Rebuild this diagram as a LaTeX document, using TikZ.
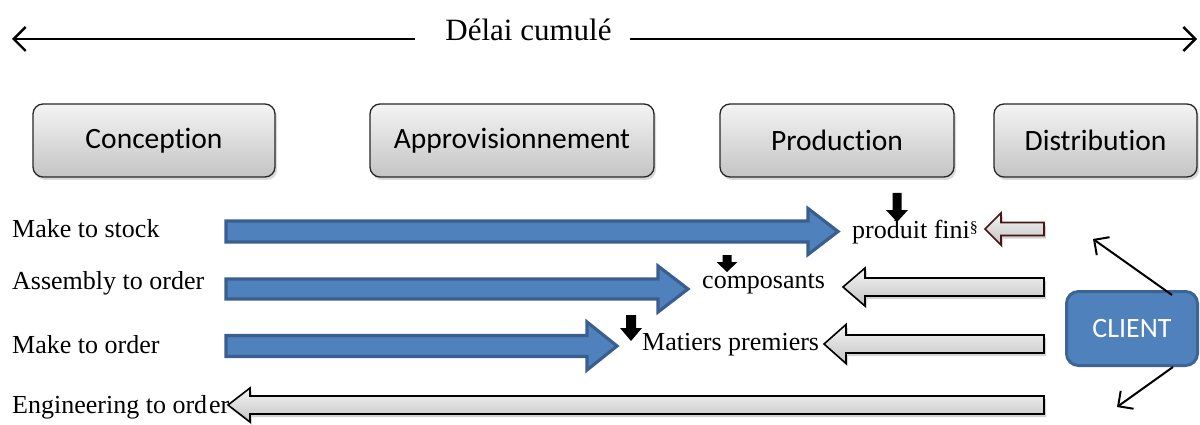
\documentclass[tikz,border=0pt]{standalone}
\usepackage{fontspec}
\setmainfont{Liberation Serif}
\newfontfamily\calibfont[Ligatures=NoCommon]{Carlito}
\usetikzlibrary{shadows,calc,arrows.meta}

\definecolor{phasetop}{HTML}{F4F4F4}
\definecolor{phasebot}{HTML}{C4C4C4}
\definecolor{flowblue}{HTML}{4F81BD}
\definecolor{flowedge}{HTML}{3A5F8F}
\definecolor{clientedge}{HTML}{3C6494}
\definecolor{maroon}{HTML}{4A1515}

% right-pointing block arrow: tail x, tip x, centre y, shaft half-height, head half-height, head length
\newcommand\rblk[7]{\path[#7] (#1,#3-#4) -- (#2-#6,#3-#4) -- (#2-#6,#3-#5) -- (#2,#3)
  -- (#2-#6,#3+#5) -- (#2-#6,#3+#4) -- (#1,#3+#4) -- cycle;}
% left-pointing block arrow: tail x, tip x, centre y, shaft half-height, head half-height, head length
\newcommand\lblk[7]{\path[#7] (#1,#3-#4) -- (#2+#6,#3-#4) -- (#2+#6,#3-#5) -- (#2,#3)
  -- (#2+#6,#3+#5) -- (#2+#6,#3+#4) -- (#1,#3+#4) -- cycle;}
% downward block arrow: centre x, top y, tip y, shaft half-width, head half-width, head length
\newcommand\dblk[6]{\fill[black] (#1-#4,#2) -- (#1+#4,#2) -- (#1+#4,#3-#6) -- (#1+#5,#3-#6)
  -- (#1,#3) -- (#1-#5,#3-#6) -- (#1-#4,#3-#6) -- cycle;}

\begin{document}
\begin{tikzpicture}[x=1pt,y=-1pt,
  phase/.style={draw=black!85, line width=1.3pt, rounded corners=10pt,
    top color=phasetop, bottom color=phasebot, minimum height=73pt,
    font=\calibfont\fontsize{29.5}{33}\selectfont,
    drop shadow={opacity=0.3, shadow xshift=2pt, shadow yshift=-3pt}},
  rowlabel/.style={anchor=west, inner sep=0pt, font=\fontsize{26}{30}\selectfont},
  stocklabel/.style={anchor=west, inner sep=0pt, font=\fontsize{26}{30}\selectfont},
  blueflow/.style={fill=flowblue, draw=flowedge, line width=3.2pt, line join=miter},
  grayflow/.style={top color=phasetop, bottom color=phasebot, draw=black, line width=1.6pt,
    drop shadow={opacity=0.35, shadow xshift=2pt, shadow yshift=-3pt}},
  smallflow/.style={grayflow, draw=maroon},
  timeline/.style={line width=2.4pt, -{Straight Barb[length=12pt, width=24pt, line width=2.4pt]}},
  clientarrow/.style={line width=2pt, -{Straight Barb[length=11pt, width=22pt, line width=2pt]}}
]
\useasboundingbox (0,0) rectangle (1200,425);

% cumulative lead time
\node[inner sep=0pt, font=\fontsize{31}{35}\selectfont] (title) at (528.5,30) {Délai cumulé};
\coordinate (leftend) at (12,39);
\coordinate (rightend) at (1197,39);
\draw[timeline] ($(title.west)+(-30,9)$) -- (leftend);
\draw[timeline] ($(title.east)+(18,9)$) -- (rightend);

% supply chain phases
\node[phase, minimum width=242pt] (conc) at (154,140.5) {Conception};
\node[phase, minimum width=284pt] (appro) at (512,140.5) {Approvisionnement};
\node[phase, minimum width=234pt] (prod) at (837,140.5) {\raisebox{-3pt}{Production}};
\node[phase, minimum width=203pt] (distr) at (1095.5,140.5) {Distribution};

% strategies
\node[rowlabel] (mts) at (12,229) {Make to stock};
\node[rowlabel] (ato) at (12,283) {Assembly to order};
\node[rowlabel] (mto) at (12,345) {Make to order};

% decoupling points
\node[stocklabel] (pf) at (852,232) {produit fini\raisebox{6pt}{\fontsize{16}{16}\selectfont\S}};
\node[stocklabel] (cp) at (702,284) {composants};
\node[stocklabel] (mp) at (642,345) {Matiers premiers};

% push flows (forecast driven)
\rblk{226}{838}{231.5}{10.5}{23}{30}{blueflow}
\rblk{226}{688}{289}{10}{23}{30}{blueflow}
\rblk{226}{617}{346}{10.5}{24}{30}{blueflow}

% pull flows (order driven)
\lblk{1044}{985}{229}{6.5}{16}{16}{smallflow}
\lblk{1044}{843}{287}{9}{19}{22}{grayflow}
\lblk{1044}{824}{344}{9}{19.5}{22}{grayflow}
\lblk{1044}{228}{405}{9}{17}{22}{grayflow}

\node[rowlabel] (eto) at (12,407) {Engineering to ord\kern2pt er};

% stock markers
\dblk{897}{193}{222}{4.5}{11}{12}
\dblk{727}{255}{272}{4.5}{10.5}{10}
\dblk{631}{315}{341}{5}{11}{13}

% customer
\node[draw=clientedge, fill=flowblue, line width=3pt, rounded corners=12pt,
  minimum width=131pt, minimum height=74pt, text=white,
  font=\calibfont\fontsize{28}{32}\selectfont] (client) at (1132,328.5) {CLIENT};
\coordinate (toStock) at (1093,239);
\coordinate (toEng) at (1117,407);
\draw[clientarrow] ($(client.north east)+(-27,5)$) -- (toStock);
\draw[clientarrow] ($(client.south east)+(-26,0)$) -- (toEng);
\end{tikzpicture}
\end{document}
